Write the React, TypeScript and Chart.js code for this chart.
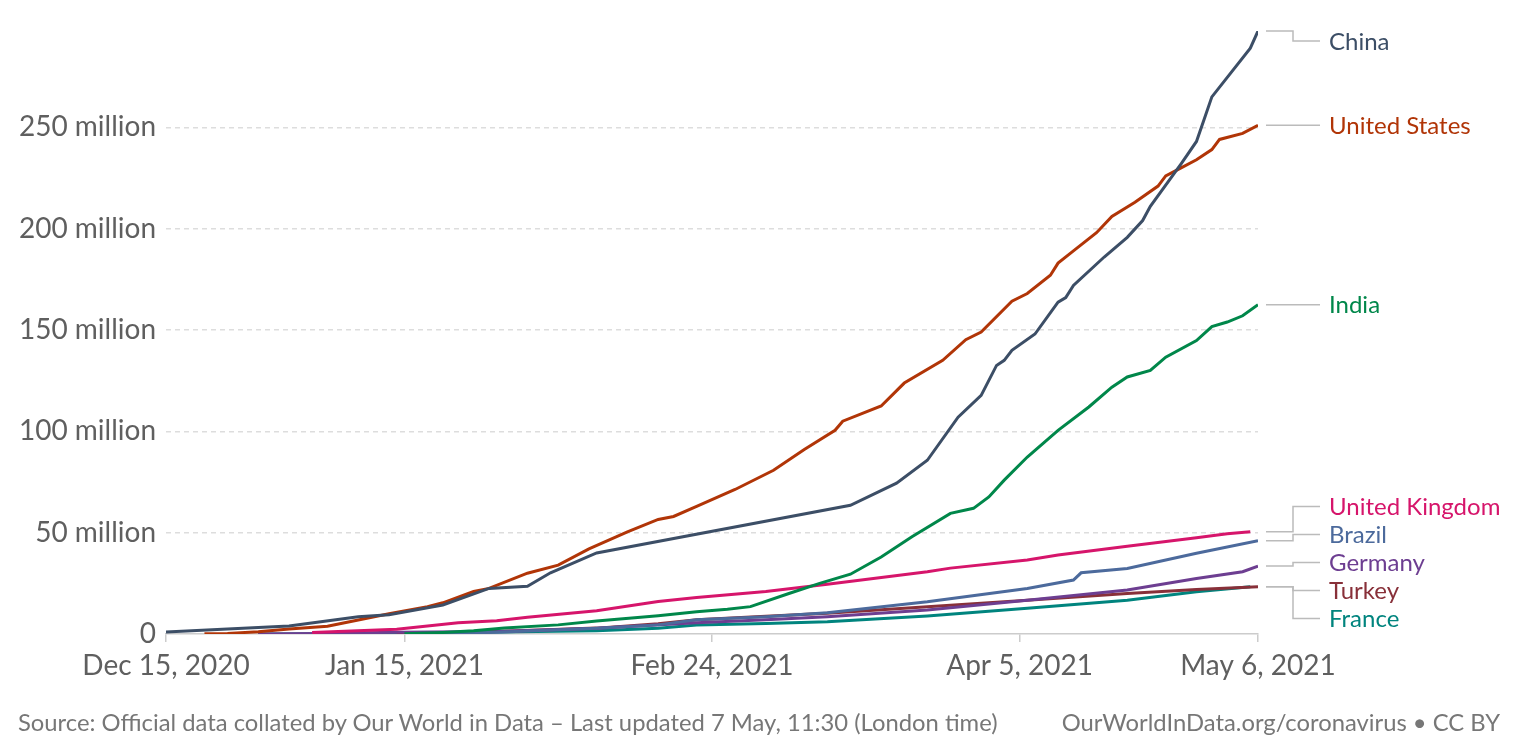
import React, { useEffect, useRef } from "react";
import { Chart, registerables } from "chart.js";

Chart.register(...registerables);

// ---- Data (values in millions, x = days since Dec 15, 2020) ----
const seriesNames = ["China", "United States", "India", "United Kingdom", "Brazil", "Germany", "Turkey", "France"];
const seriesColors = ["#3c4e66", "#b13507", "#00874a", "#d6156b", "#4c6a9c", "#6d3e91", "#883039", "#00847e"];

const chinaDays = [0, 16, 25, 29, 36, 42, 47, 50, 56, 89, 95, 99, 103, 106, 108, 109, 110, 113, 116, 117, 118, 122, 125, 127, 128, 132, 134, 135, 136, 141, 142];
const chinaValues = [1.0, 4.0, 8.5, 9.5, 14.3, 22.5, 23.5, 30.2, 40, 63.5, 74.4, 85.7, 107, 117.7, 132.5, 135, 140, 148, 163.7, 166, 172, 186, 195.7, 204, 211, 232, 243, 254, 265, 289, 297.5];

const usDays = [5, 8, 12, 16, 21, 25, 29, 34, 36, 40, 42, 47, 51, 55, 60, 64, 66, 69, 74, 79, 83, 87, 88, 93, 96, 101, 104, 106, 110, 112, 115, 116, 118, 121, 123, 126, 129, 130, 132, 134, 136, 137, 140, 142];
const usValues = [0.1, 0.3, 1.1, 2.5, 3.8, 6.9, 10, 13.5, 15.4, 21, 22.5, 30, 34, 42, 50.4, 56.5, 58, 63, 71.3, 80.8, 91, 100.5, 105, 112.5, 123.8, 135, 145.2, 149, 164.2, 168, 177, 183, 189, 198, 206, 213, 221, 226, 230, 234, 239, 244, 247, 251];

const indiaDays = [31, 36, 40, 44, 51, 56, 64, 69, 73, 76, 81, 85, 89, 93, 97, 102, 105, 107, 109, 112, 116, 120, 123, 125, 128, 130, 134, 136, 138, 140, 142];
const indiaValues = [0.1, 0.8, 1.6, 3, 4.5, 6.4, 9, 11, 12.2, 13.5, 20, 25, 29.5, 38, 48, 59.5, 62, 67.6, 75.9, 87.3, 100.5, 112, 121.8, 126.8, 130, 136.6, 144.8, 151.7, 153.9, 157, 162.5];

const ukDays = [19, 30, 38, 43, 47, 56, 64, 69, 78, 86, 99, 102, 112, 116, 125, 134, 138, 141];
const ukValues = [0.8, 2.4, 5.5, 6.5, 8.3, 11.5, 16, 18, 21, 24.5, 30.7, 32.5, 36.5, 39, 43.3, 47.5, 49.5, 50.5];

const brazilDays = [33, 43, 56, 64, 69, 78, 86, 99, 112, 118, 119, 125, 134, 142];
const brazilValues = [0, 0.9, 2.8, 4.5, 7, 8.5, 10.5, 15.9, 22.5, 26.6, 30.2, 32.3, 39.8, 46];

const germanyDays = [12, 20, 30, 43, 56, 69, 78, 86, 99, 112, 125, 134, 140, 142];
const germanyValues = [0, 0.3, 0.9, 1.2, 2.8, 5.6, 7, 8.5, 11.8, 16.7, 21.7, 27.4, 30.7, 33.5];

const turkeyDays = [30, 36, 43, 56, 64, 69, 78, 86, 99, 112, 125, 134, 142];
const turkeyValues = [0, 0.6, 1.2, 2.9, 5, 7, 8.8, 10.2, 13.5, 16.7, 20, 22, 23.3];

const franceDays = [12, 20, 30, 43, 56, 64, 69, 78, 86, 99, 112, 125, 134, 141];
const franceValues = [0, 0.1, 0.4, 1, 1.6, 2.8, 4.4, 5.2, 6, 8.9, 12.7, 16.7, 20.8, 23.3];

const seriesDays = [chinaDays, usDays, indiaDays, ukDays, brazilDays, germanyDays, turkeyDays, franceDays];
const seriesValues = [chinaValues, usValues, indiaValues, ukValues, brazilValues, germanyValues, turkeyValues, franceValues];

const xTickDays = [0, 31, 71, 111, 142];
const xTickLabels = ["Dec 15, 2020", "Jan 15, 2021", "Feb 24, 2021", "Apr 5, 2021", "May 6, 2021"];
const yTickValues = [0, 50, 100, 150, 200, 250];
const yTickLabels = ["0", "50 million", "100 million", "150 million", "200 million", "250 million"];

const sourceText = "Source: Official data collated by Our World in Data – Last updated 7 May, 11:30 (London time)";
const creditText = "OurWorldInData.org/coronavirus • CC BY";

const FONT = "Lato, 'Noto Sans', sans-serif";

const endLabelsPlugin = {
  id: "endLabels",
  afterDatasetsDraw(chart: any) {
    const ctx = chart.ctx;
    const area = chart.chartArea;
    const yScale = chart.scales.y;
    const gap = 28;
    const minY = area.top + 10;
    const items = chart.data.datasets.map((ds: any, i: number) => {
      const last = ds.data[ds.data.length - 1];
      return { i, name: ds.label, color: ds.borderColor, target: yScale.getPixelForValue(last.y) };
    });
    items.sort((a: any, b: any) => a.target - b.target);
    let groups: any[] = items.map((it: any) => ({ items: [it] }));
    const place = (g: any) => {
      const mean = g.items.reduce((s: number, it: any) => s + it.target, 0) / g.items.length;
      let start = mean - ((g.items.length - 1) / 2) * gap;
      if (start < minY) start = minY;
      g.start = start;
      g.end = start + (g.items.length - 1) * gap;
    };
    groups.forEach(place);
    let merged = true;
    while (merged) {
      merged = false;
      for (let k = 0; k < groups.length - 1; k++) {
        if (groups[k + 1].start < groups[k].end + gap) {
          const g = { items: groups[k].items.concat(groups[k + 1].items) };
          place(g);
          groups.splice(k, 2, g);
          merged = true;
          break;
        }
      }
    }
    const startX = area.right + 8;
    const elbowX = area.right + 35;
    const endX = area.right + 62;
    const textX = area.right + 71;
    ctx.save();
    groups.forEach((g: any) => {
      g.items.forEach((it: any, k: number) => {
        const ly = g.start + k * gap;
        ctx.strokeStyle = "#bbbbbb";
        ctx.lineWidth = 1.5;
        ctx.beginPath();
        ctx.moveTo(startX, it.target);
        ctx.lineTo(elbowX, it.target);
        ctx.lineTo(elbowX, ly);
        ctx.lineTo(endX, ly);
        ctx.stroke();
        ctx.fillStyle = it.color;
        ctx.font = `24px ${FONT}`;
        ctx.textAlign = "left";
        ctx.textBaseline = "middle";
        ctx.fillText(it.name, textX, ly + 1);
      });
    });
    ctx.restore();
  },
};

export default function App() {
  const canvasRef = useRef<HTMLCanvasElement | null>(null);

  useEffect(() => {
    if (!canvasRef.current) return;
    const allValues = seriesValues.flat();
    const yMax = Math.max(...allValues);
    const datasets = seriesNames.map((name, i) => ({
      label: name,
      data: seriesDays[i].map((d, j) => ({ x: d, y: seriesValues[i][j] })),
      borderColor: seriesColors[i],
      backgroundColor: seriesColors[i],
      borderWidth: 3,
      pointRadius: 0,
      tension: 0,
      fill: false,
    }));
    const chart = new Chart(canvasRef.current, {
      type: "line",
      data: { datasets },
      plugins: [endLabelsPlugin],
      options: {
        animation: false,
        responsive: true,
        maintainAspectRatio: false,
        layout: { padding: { top: 31, right: 260, left: 0, bottom: 0 } },
        plugins: { legend: { display: false }, tooltip: { enabled: false } },
        scales: {
          x: {
            type: "linear",
            min: 0,
            max: 142,
            afterBuildTicks: (s: any) => {
              s.ticks = xTickDays.map((v) => ({ value: v }));
            },
            afterFit: (s: any) => {
              s.height = 117;
            },
            ticks: {
              callback: (v: any) => xTickLabels[xTickDays.indexOf(Number(v))],
              font: { family: FONT, size: 28 },
              color: "#5f5f5f",
              padding: 7,
              maxRotation: 0,
              autoSkip: false,
            },
            grid: { drawOnChartArea: false, drawTicks: true, tickLength: 8, color: "#cccccc", lineWidth: 1.5 },
            border: { display: true, color: "#cccccc", width: 1.5 },
          },
          y: {
            min: 0,
            max: yMax,
            afterBuildTicks: (s: any) => {
              s.ticks = yTickValues.map((v) => ({ value: v }));
            },
            afterFit: (s: any) => {
              s.width = 166;
            },
            ticks: {
              callback: (v: any) => yTickLabels[yTickValues.indexOf(Number(v))],
              font: { family: FONT, size: 28 },
              color: "#5f5f5f",
              padding: 10,
            },
            grid: {
              color: (c: any) => (c.tick && c.tick.value === 0 ? "rgba(0,0,0,0)" : "#dddddd"),
              drawTicks: false,
              lineWidth: 1.5,
            },
            border: { display: false, dash: [5, 4] },
          },
        },
      } as any,
    });
    return () => chart.destroy();
  }, []);

  const footStyle: any = {
    position: "absolute",
    top: 706,
    fontFamily: FONT,
    fontSize: 23.8,
    color: "#777777",
    whiteSpace: "nowrap",
    lineHeight: "32px",
  };

  return (
    <div style={{ position: "absolute", left: 0, top: 0, width: 1518, height: 751, background: "#fff", overflow: "hidden" }}>
      <canvas ref={canvasRef} />
      <div style={{ ...footStyle, left: 18 }}>{sourceText}</div>
      <div style={{ ...footStyle, right: 18 }}>{creditText}</div>
    </div>
  );
}
